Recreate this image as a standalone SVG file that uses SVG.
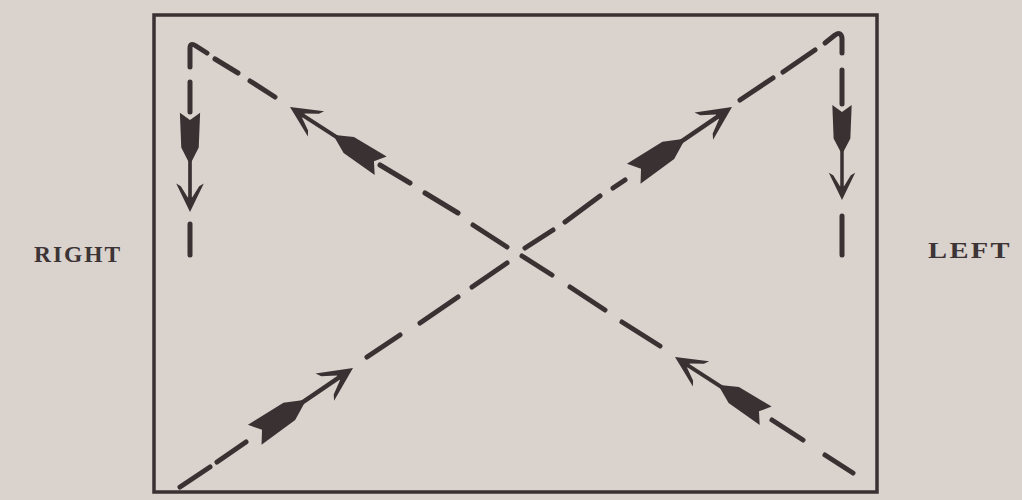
<svg xmlns="http://www.w3.org/2000/svg" width="1022" height="500" viewBox="0 0 1022 500">
  <style>
    .ink { stroke: #3a3133; fill: none; stroke-linecap: round; stroke-linejoin: round; }
    .dash { stroke-width: 5; }
    .lbl { font-family: "Liberation Serif", "Times New Roman", serif; font-size: 24px; font-weight: bold; letter-spacing: 2px; fill: #3d3436; }
  </style>
  <defs>
    <g id="arrow">
      <line x1="-14" y1="0" x2="-62" y2="0" stroke="#3a3133" stroke-width="4"/>
      <polygon points="0,0 -31,-15 -28,-10 -16,-2.5 -16,2.5 -28,10 -31,15" fill="#3a3133"/>
      <polygon points="-55,-1.8 -70,-9.5 -108,-11 -100,0 -108,11 -70,9.5 -55,1.8" fill="#3a3133"/>
    </g>
  </defs>
  <rect width="1022" height="500" fill="#d9d2cd"/>
  <g id="frame">
    <rect x="154" y="15" width="723" height="477" fill="none" stroke="#3a3133" stroke-width="3.5"/>
  </g>
  <g id="label-right">
    <text class="lbl" x="34" y="262" textLength="88" lengthAdjust="spacingAndGlyphs">RIGHT</text>
  </g>
  <g id="label-left">
    <text class="lbl" x="928" y="258" textLength="84" lengthAdjust="spacingAndGlyphs">LEFT</text>
  </g>
  <g id="connectors">
    <g class="ink dash">
      <path d="M190,67 L190,48 Q190,42 196,46 L207,53"/>
      <line x1="190" y1="82" x2="190" y2="112"/>
      <line x1="190" y1="224" x2="190" y2="255"/>
      <line x1="215" y1="59" x2="238" y2="73"/>
      <line x1="250" y1="81" x2="275" y2="97"/>
      <line x1="380" y1="165" x2="410" y2="183"/>
      <line x1="425" y1="193" x2="458" y2="213"/>
      <line x1="473" y1="225" x2="507" y2="247"/>
      <line x1="522" y1="256" x2="552" y2="275"/>
      <line x1="570" y1="287" x2="605" y2="310"/>
      <line x1="622" y1="322" x2="660" y2="346"/>
      <line x1="772" y1="420" x2="803" y2="440"/>
      <line x1="825" y1="455" x2="853" y2="473"/>
      <line x1="180" y1="487" x2="210" y2="467"/>
      <line x1="217" y1="462" x2="246" y2="442"/>
      <line x1="367" y1="357" x2="400" y2="335"/>
      <line x1="420" y1="323" x2="458" y2="297"/>
      <line x1="472" y1="287" x2="507" y2="263"/>
      <line x1="525" y1="248" x2="553" y2="230"/>
      <line x1="565" y1="222" x2="600" y2="196"/>
      <line x1="613" y1="188" x2="625" y2="180"/>
      <line x1="740" y1="100" x2="773" y2="78"/>
      <line x1="783" y1="72" x2="815" y2="50"/>
      <path d="M825,43 L835,35 Q841,31 842,38 L842,53"/>
      <line x1="842" y1="70" x2="842" y2="104"/>
      <line x1="842" y1="216" x2="842" y2="255"/>
    </g>
    <use href="#arrow" transform="translate(290,107) rotate(212.9)"/>
    <use href="#arrow" transform="translate(675,357) rotate(212.9)"/>
    <use href="#arrow" transform="translate(353,368) rotate(-34.2) scale(1.1)"/>
    <use href="#arrow" transform="translate(732,107) rotate(-34.2) scale(1.1)"/>
    <use href="#arrow" transform="translate(190,212) rotate(90) scale(0.92)"/>
    <use href="#arrow" transform="translate(842,200) rotate(90) scale(0.88)"/>
  </g>
</svg>
